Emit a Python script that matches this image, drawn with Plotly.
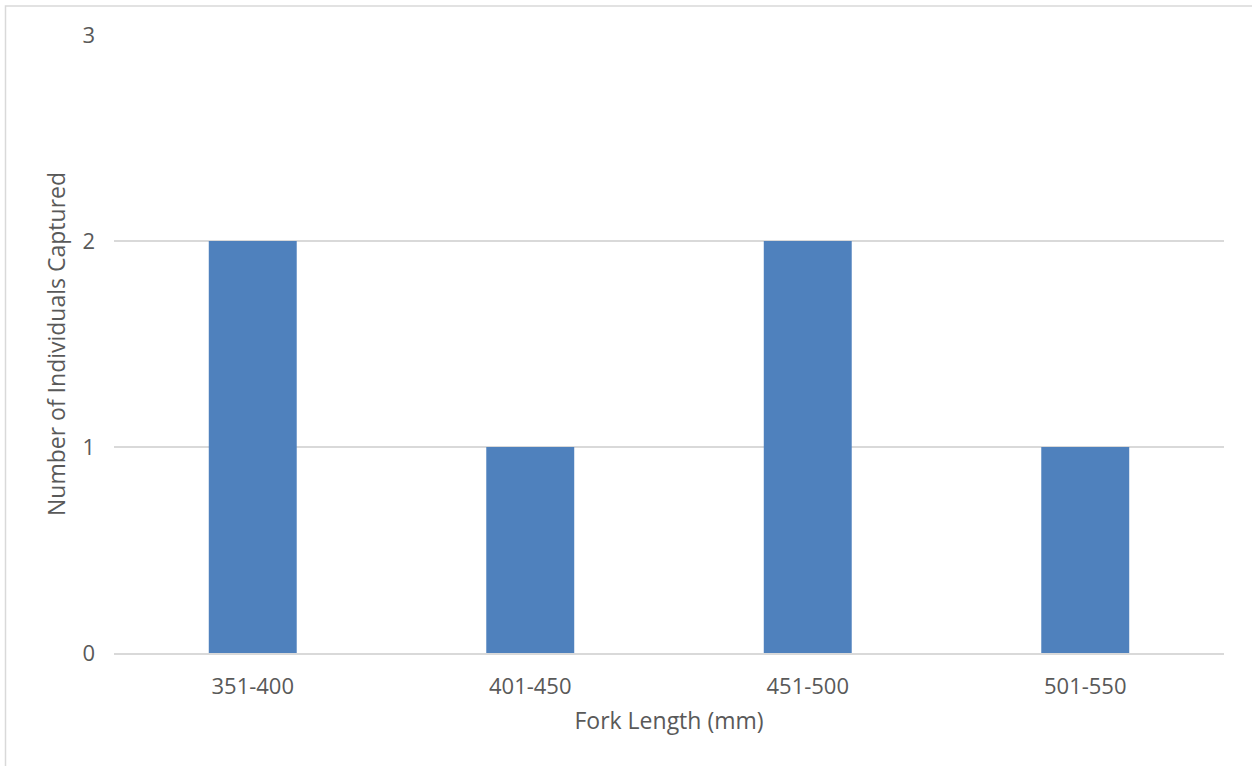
import plotly.graph_objects as go

categories = ["351-400", "401-450", "451-500", "501-550"]
counts = [2, 1, 2, 1]
y_ticks = [0, 1, 2, 3]

text_color = "#595959"
grid_color = "#D9D9D9"
bar_color = "#4F81BD"
font_family = "Open Sans, Lato, sans-serif"

fig = go.Figure(
    go.Bar(x=categories, y=counts, marker=dict(color=bar_color, line=dict(width=0)),
           hoverinfo="x+y")
)

W, H = 1252, 766
L, R, T, B = 114, 28, 35, 113

fig.update_layout(
    width=W, height=H,
    margin=dict(l=L, r=R, t=T, b=B, pad=0),
    paper_bgcolor="white", plot_bgcolor="white",
    bargap=0.683,
    showlegend=False,
    font=dict(family=font_family, color=text_color, size=20),
    xaxis=dict(
        showgrid=False, showline=True, linecolor=grid_color, linewidth=1.5,
        ticks="", tickfont=dict(size=22, color=text_color),
        ticklabelstandoff=13,
        title=dict(text="Fork Length (mm)", font=dict(size=23, color=text_color), standoff=14),
        fixedrange=True,
    ),
    yaxis=dict(
        range=[0, 3], tickvals=y_ticks, ticktext=[str(v) for v in y_ticks],
        showgrid=True, gridcolor=grid_color, gridwidth=1.5,
        zeroline=False, showline=False, ticks="",
        tickfont=dict(size=22, color=text_color),
        ticklabelstandoff=18,
        title=dict(text="Number of Individuals Captured", font=dict(size=23, color=text_color), standoff=10),
        fixedrange=True,
    ),
    shapes=[dict(
        type="rect", xref="paper", yref="paper",
        x0=(5.5 - L) / (W - L - R), x1=1.3,
        y0=-0.4, y1=(H - B - 6) / (H - T - B),
        line=dict(color=grid_color, width=1.5), fillcolor="rgba(0,0,0,0)", layer="below",
    )],
)

fig.write_html("out.html", config={"displayModeBar": False},
               post_script="document.body.style.margin='0px';")
